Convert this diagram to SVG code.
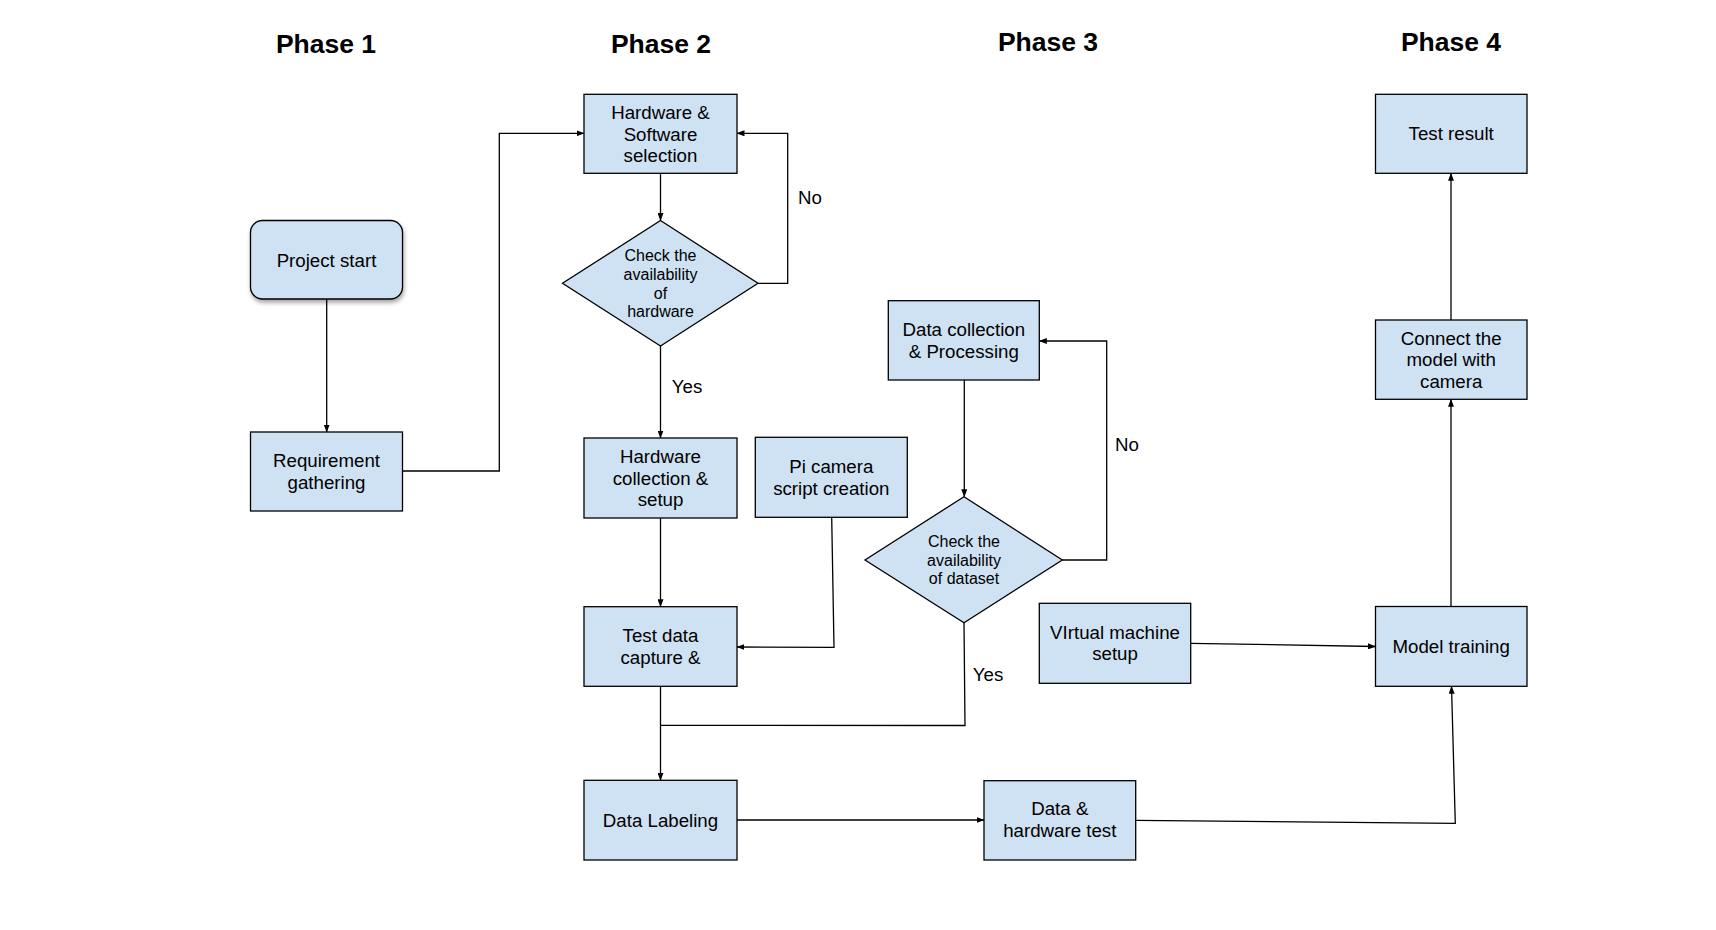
<svg xmlns="http://www.w3.org/2000/svg" width="1716" height="930" viewBox="0 0 1716 930">
<style>
.box{fill:#cfe2f3;stroke:#000;stroke-width:1.3}
.t{font-family:"Liberation Sans",Arial,sans-serif;font-size:18.7px;fill:#000;text-anchor:middle}
.d{font-family:"Liberation Sans",Arial,sans-serif;font-size:16px;fill:#000;text-anchor:middle}
.h{font-family:"Liberation Sans",Arial,sans-serif;font-size:26.5px;font-weight:bold;fill:#000;text-anchor:middle}
.c{fill:none;stroke:#000;stroke-width:1.3;marker-end:url(#arr)}
.cn{fill:none;stroke:#000;stroke-width:1.3}
</style>
<defs>
<marker id="arr" markerUnits="userSpaceOnUse" markerWidth="8" markerHeight="6" refX="7.5" refY="3" orient="auto">
<path d="M0,0 L8,3 L0,6 z" fill="#000"/>
</marker>
<filter id="sh" x="-10%" y="-10%" width="130%" height="140%">
<feDropShadow dx="1" dy="3" stdDeviation="2" flood-color="#000" flood-opacity="0.35"/>
</filter>
</defs>
<rect width="1716" height="930" fill="#fff"/>

<g id="headers">
<text class="h" x="326" y="53">Phase 1</text>
<text class="h" x="661" y="53">Phase 2</text>
<text class="h" x="1048" y="51">Phase 3</text>
<text class="h" x="1451" y="51">Phase 4</text>
</g>

<g id="connectors">
<path class="c" d="M326.7,299 L326.7,432"/>
<path class="c" d="M402.7,471 L499.3,471 L499.3,133.3 L584,133.3"/>
<path class="c" d="M660.5,173.3 L660.5,220.5"/>
<path class="c" d="M758,283.3 L787.7,283.3 L787.7,133.3 L737,133.3"/>
<path class="c" d="M660.5,346 L660.5,438"/>
<path class="c" d="M660.5,518 L660.5,606.7"/>
<path class="c" d="M831.7,517.3 L834,647.3 L737,647"/>
<path class="cn" d="M964,622.7 L965,725.5 L660.5,725.3"/>
<path class="c" d="M660.5,686.3 L660.5,780.3"/>
<path class="c" d="M737,820 L984,820"/>
<path class="c" d="M964.3,380 L964.3,496.7"/>
<path class="c" d="M1062.3,560 L1106.7,560 L1106.7,341 L1039.3,341"/>
<path class="c" d="M1190.7,643.3 L1375.5,646.5"/>
<path class="c" d="M1135.7,820.3 L1455.3,823.3 L1451.5,686.3"/>
<path class="c" d="M1451,606.5 L1451,399.3"/>
<path class="c" d="M1451,320 L1451,173.3"/>
</g>

<g id="labels">
<text class="t" x="810" y="203.5">No</text>
<text class="t" x="687" y="392.5">Yes</text>
<text class="t" x="1127" y="450.5">No</text>
<text class="t" x="988" y="680.5">Yes</text>
</g>

<g id="project-start">
<rect class="box" x="250.5" y="220.5" width="152" height="78.5" rx="12" filter="url(#sh)"/>
<text class="t" x="326.5" y="267">Project start</text>
</g>
<g id="requirement-gathering">
<rect class="box" x="250.5" y="432" width="152" height="79"/>
<text class="t" x="326.5" y="467">Requirement</text>
<text class="t" x="326.5" y="489">gathering</text>
</g>
<g id="hw-sw-selection">
<rect class="box" x="584" y="94.3" width="153" height="79"/>
<text class="t" x="660.5" y="119">Hardware &amp;</text>
<text class="t" x="660.5" y="140.7">Software</text>
<text class="t" x="660.5" y="162.4">selection</text>
</g>
<g id="check-hardware">
<polygon class="box" points="660.5,220.5 758,283.3 660.5,346 562.5,283.3"/>
<text class="d" x="660.5" y="261">Check the</text>
<text class="d" x="660.5" y="279.8">availability</text>
<text class="d" x="660.5" y="298.6">of</text>
<text class="d" x="660.5" y="317.4">hardware</text>
</g>
<g id="hardware-collection">
<rect class="box" x="584" y="438" width="153" height="80"/>
<text class="t" x="660.5" y="463">Hardware</text>
<text class="t" x="660.5" y="484.7">collection &amp;</text>
<text class="t" x="660.5" y="506.4">setup</text>
</g>
<g id="pi-camera">
<rect class="box" x="755.3" y="437.3" width="152" height="80"/>
<text class="t" x="831.3" y="473">Pi camera</text>
<text class="t" x="831.3" y="494.7">script creation</text>
</g>
<g id="test-data">
<rect class="box" x="584" y="606.7" width="153" height="79.6"/>
<text class="t" x="660.5" y="642">Test data</text>
<text class="t" x="660.5" y="663.7">capture &amp;</text>
</g>
<g id="data-labeling">
<rect class="box" x="584" y="780.3" width="153" height="79.7"/>
<text class="t" x="660.5" y="826.7">Data Labeling</text>
</g>
<g id="data-collection">
<rect class="box" x="888.3" y="300.7" width="151" height="79.3"/>
<text class="t" x="963.8" y="336.3">Data collection</text>
<text class="t" x="963.8" y="358">&amp; Processing</text>
</g>
<g id="check-dataset">
<polygon class="box" points="964,496.7 1062.3,560 964,622.7 865,560"/>
<text class="d" x="964" y="546.7">Check the</text>
<text class="d" x="964" y="565.5">availability</text>
<text class="d" x="964" y="584.3">of dataset</text>
</g>
<g id="virtual-machine">
<rect class="box" x="1039.3" y="603.3" width="151.4" height="80"/>
<text class="t" x="1115" y="638.5">VIrtual machine</text>
<text class="t" x="1115" y="660.2">setup</text>
</g>
<g id="data-hardware-test">
<rect class="box" x="984" y="780.7" width="151.7" height="79.3"/>
<text class="t" x="1059.8" y="815.3">Data &amp;</text>
<text class="t" x="1059.8" y="837.2">hardware test</text>
</g>
<g id="model-training">
<rect class="box" x="1375.5" y="606.5" width="151.5" height="79.8"/>
<text class="t" x="1451.2" y="653">Model training</text>
</g>
<g id="connect-model">
<rect class="box" x="1375.5" y="320" width="151.5" height="79.3"/>
<text class="t" x="1451.2" y="344.5">Connect the</text>
<text class="t" x="1451.2" y="366.2">model with</text>
<text class="t" x="1451.2" y="387.9">camera</text>
</g>
<g id="test-result">
<rect class="box" x="1375.5" y="94.3" width="151.5" height="79"/>
<text class="t" x="1451.2" y="140">Test result</text>
</g>
</svg>
